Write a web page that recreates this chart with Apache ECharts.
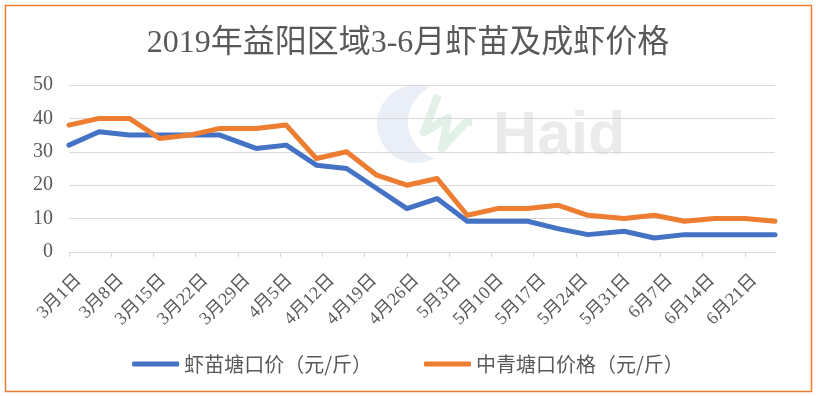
<!DOCTYPE html>
<html>
<head>
<meta charset="utf-8">
<script src="https://cdn.jsdelivr.net/npm/echarts@6/dist/echarts.min.js"></script>
<style>
html,body{margin:0;padding:0;background:#fff;}
#chart{width:816px;height:396px;}
</style>
</head>
<body>
<div id="chart"></div>
<script>
const title = '2019年益阳区域3-6月虾苗及成虾价格';
const seriesNames = ['虾苗塘口价（元/斤）', '中青塘口价格（元/斤）'];
const dates = ['3月1日','3月6日','3月11日','3月16日','3月21日','3月26日',
               '4月1日','4月6日','4月11日','4月16日','4月21日','4月26日',
               '5月1日','5月6日','5月11日','5月16日','5月21日','5月26日',
               '6月1日','6月6日','6月11日','6月16日','6月21日','6月26日'];
const fryPrice = [32,36,35,35,35,35,31,32,26,25,19,13,16,9.2,9.2,9.2,7,5.2,6.2,4.2,5.2,5.2,5.2,5.2];
const adultPrice = [38,40,40,34,35,37,37,38,28,30,23,20,22,11,13,13,14,11,10,11,9.2,10,10,9.2];
const tickLabels = ['3月1日','3月8日','3月15日','3月22日','3月29日','4月5日','4月12日','4月19日',
                    '4月26日','5月3日','5月10日','5月17日','5月24日','5月31日','6月7日','6月14日','6月21日'];
const yTicks = [0, 50, 10];

function dayIndex(label) {
  const m = label.match(/(\d+)月(\d+)日/);
  const t = Date.UTC(2019, +m[1] - 1, +m[2]);
  const t0 = Date.UTC(2019, 2, 1);
  return Math.round((t - t0) / 86400000);
}
const tickPos = tickLabels.map(dayIndex);
const labelByPos = {};
tickLabels.forEach((l, i) => { labelByPos[tickPos[i]] = l; });
const xs = dates.map(dayIndex);

// watermark crescent outline (decoration)
function crescent(cx, cy, r, a0, a1, cx2, cy2, r2) {
  const pts = [];
  for (let k = 0; k <= 40; k++) {
    const a = a0 + (a1 - a0) * k / 40;
    pts.push([cx + r * Math.cos(a), cy + r * Math.sin(a)]);
  }
  const end = pts[pts.length - 1], start = pts[0];
  const b0 = Math.atan2(end[1] - cy2, end[0] - cx2);
  let b1 = Math.atan2(start[1] - cy2, start[0] - cx2);
  if (b1 < b0) b1 += 2 * Math.PI;
  for (let k = 1; k < 40; k++) {
    const b = b0 + (b1 - b0) * k / 40;
    pts.push([cx2 + r2 * Math.cos(b), cy2 + r2 * Math.sin(b)]);
  }
  return pts;
}
const cres = crescent(416, 124, 39, -70 * Math.PI / 180, -300 * Math.PI / 180, 446, 122, 38);

const textColor = '#595959';
const chart = echarts.init(document.getElementById('chart'), null, {renderer: 'canvas'});
chart.setOption({
  animation: false,
  backgroundColor: '#fff',
  title: {
    text: title,
    left: 'center',
    top: 23,
    textStyle: {fontFamily: "'Liberation Serif','Noto Sans CJK SC'", fontSize: 32, fontWeight: 'normal', color: textColor}
  },
  graphic: [
    {type: 'rect', z: 100, silent: true, shape: {x: 5.5, y: 5.5, width: 806, height: 386},
     style: {fill: 'none', stroke: '#ED7D31', lineWidth: 1.5}},
    {type: 'polygon', z: -10, silent: true, shape: {points: cres}, style: {fill: '#e9eef7'}},
    {type: 'polyline', z: -10, silent: true,
     shape: {points: [[438,95],[424,132],[448,118],[442,148],[466,122],[472,122]]},
     style: {stroke: '#e2f1e7', lineWidth: 8, fill: 'none', lineJoin: 'round'}},
    {type: 'text', z: -10, silent: true,
     style: {text: 'Haid', x: 493, y: 137, verticalAlign: 'middle', font: "bold 61px 'Liberation Sans'", fill: '#ebebeb'}}
  ],
  legend: {
    bottom: 17,
    left: 'center',
    itemGap: 52,
    itemWidth: 47,
    itemHeight: 5,
    icon: 'roundRect',
    textStyle: {fontFamily: "'Noto Sans CJK SC'", fontSize: 20, color: textColor}
  },
  grid: {left: 69, right: 41, top: 85, bottom: 144},
  xAxis: {
    type: 'value',
    min: 0,
    max: xs[xs.length - 1],
    interval: 7,
    splitLine: {show: false},
    axisLine: {lineStyle: {color: '#d9d9d9', width: 1}},
    axisTick: {show: true, length: 5, customValues: tickPos, lineStyle: {color: '#d9d9d9'}},
    axisLabel: {
      customValues: tickPos,
      rotate: 45,
      margin: 16,
      verticalAlign: 'top',
      lineHeight: 27,
      showMinLabel: true,
      showMaxLabel: true,
      hideOverlap: false,
      formatter: v => labelByPos[v] || '',
      fontFamily: "'Liberation Serif','Noto Sans CJK SC'",
      fontSize: 18,
      color: textColor
    }
  },
  yAxis: {
    type: 'value',
    min: yTicks[0],
    max: yTicks[1],
    interval: yTicks[2],
    axisLine: {show: false},
    axisTick: {show: false},
    splitLine: {lineStyle: {color: '#d9d9d9', width: 1}},
    axisLabel: {margin: 16, fontFamily: "'Liberation Serif'", fontSize: 20, color: textColor}
  },
  series: [
    {name: seriesNames[0], type: 'line', symbol: 'none', data: xs.map((x, i) => [x, fryPrice[i]]),
     color: '#4472C4', lineStyle: {width: 5, color: '#4472C4', cap: 'round', join: 'round'}},
    {name: seriesNames[1], type: 'line', symbol: 'none', data: xs.map((x, i) => [x, adultPrice[i]]),
     color: '#ED7D31', lineStyle: {width: 5, color: '#ED7D31', cap: 'round', join: 'round'}}
  ]
});
</script>
</body>
</html>
